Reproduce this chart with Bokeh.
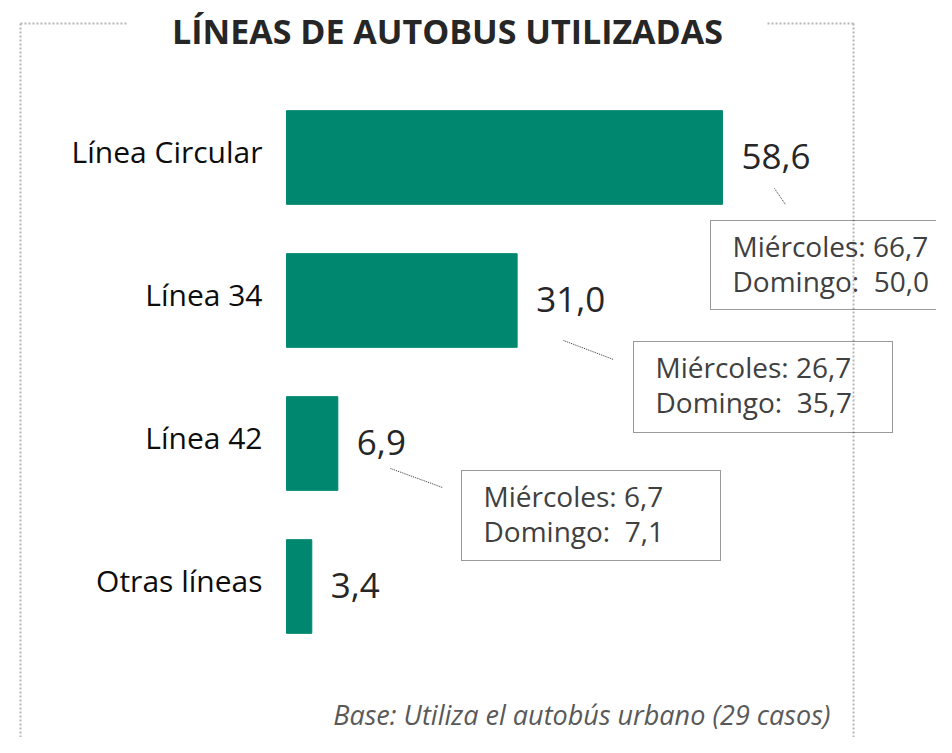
from bokeh.plotting import figure
from bokeh.models import Range1d
from bokeh.core.properties import value
from bokeh.embed import file_html
from bokeh.resources import INLINE

# ---------------- data ----------------
categories = ["Línea Circular", "Línea 34", "Línea 42", "Otras líneas"]
totals = [58.6, 31.0, 6.9, 3.4]
miercoles = [66.7, 26.7, 6.7]
domingo = [50.0, 35.7, 7.1]
title_text = "LÍNEAS DE AUTOBUS UTILIZADAS"
base_text = "Base: Utiliza el autobús urbano (29 casos)"

def fmt(v):
    return f"{v:.1f}".replace(".", ",")

# ---------------- layout ----------------
W, H = 936, 737
X0 = 286              # canvas px of value 0
SX = 7.44             # px per unit
Y0 = 157              # canvas px of first bar centre
SY = 143              # px between bars
FONT = "Open Sans"

def X(px):  # picture px -> data x
    return (px - X0) / SX

def Y(py):  # picture px -> data y
    return (py - Y0) / SY

p = figure(width=W, height=H,
           x_range=Range1d(-X0 / SX, (W - X0) / SX),
           y_range=Range1d((H - Y0) / SY, -Y0 / SY),
           x_axis_type=None, y_axis_type=None,
           output_backend="svg", toolbar_location=None,
           min_border=0)
p.grid.visible = False
p.outline_line_color = None
p.background_fill_color = "white"
p.border_fill_color = "white"

idx = list(range(len(categories)))

# bars
p.hbar(y=idx, left=0, right=totals, height=0.655,
       fill_color="#00876f", line_color="#00876f")

# category labels
p.text(x=[0] * len(idx), y=idx, text=categories, x_offset=-24, y_offset=-6,
       text_align="right", text_baseline="middle",
       text_font=value(FONT), text_font_size="30px", text_color="#0d0d0d")

# value labels
p.text(x=totals, y=idx, text=[fmt(v) for v in totals], x_offset=19, y_offset=-1,
       text_align="left", text_baseline="middle",
       text_font=value(FONT), text_font_size="35px", text_color="#262626")

# outer dotted frame (broken by title)
frame_col = "#b5b5b5"
p.multi_line(xs=[[X(20), X(20)], [X(853), X(853)], [X(20), X(127)], [X(767), X(853)]],
             ys=[[Y(23), Y(770)], [Y(23), Y(770)], [Y(23), Y(23)], [Y(23), Y(23)]],
             line_color=frame_col, line_width=2, line_dash="2 2")

# title
p.text(x=[X(447)], y=[Y(30)], text=[title_text], text_align="center",
       text_baseline="middle", text_font=value(FONT), text_font_style="bold",
       text_font_size="34px", text_color="#262626")

# base note
p.text(x=[X(830)], y=[Y(714)], text=[base_text], text_align="right",
       text_baseline="middle", text_font=value(FONT), text_font_style="italic",
       text_font_size="27px", text_color="#595959")

# annotation boxes (layout in picture px)
box_l = [710, 633, 461]
box_r = [960, 892, 720]
box_t = [220, 341, 470]
box_b = [309, 432, 560]
lead_x0 = [774, 563, 390]
lead_y0 = [188, 340, 468]
lead_x1 = [785, 613, 442]
lead_y1 = [204, 359, 487]

p.quad(left=[X(v) for v in box_l], right=[X(v) for v in box_r],
       top=[Y(v) for v in box_t], bottom=[Y(v) for v in box_b],
       fill_color=None, line_color="#333333", line_width=1, line_dash="1 1")
p.segment(x0=[X(v) for v in lead_x0], y0=[Y(v) for v in lead_y0],
          x1=[X(v) for v in lead_x1], y1=[Y(v) for v in lead_y1],
          line_color="#333333", line_width=1, line_dash="1 1")

line1 = ["Miércoles: " + fmt(v) for v in miercoles]
line2 = ["Domingo:\u00a0 " + fmt(v) for v in domingo]
p.text(x=[X(v + 22) for v in box_l], y=[Y(v + 25) for v in box_t], text=line1,
       text_align="left", text_baseline="middle", text_font=value(FONT),
       text_font_size="28px", text_color="#404040")
p.text(x=[X(v + 22) for v in box_l], y=[Y(v + 60) for v in box_t], text=line2,
       text_align="left", text_baseline="middle", text_font=value(FONT),
       text_font_size="28px", text_color="#404040")

open("out.html", "w").write(file_html(p, INLINE))
